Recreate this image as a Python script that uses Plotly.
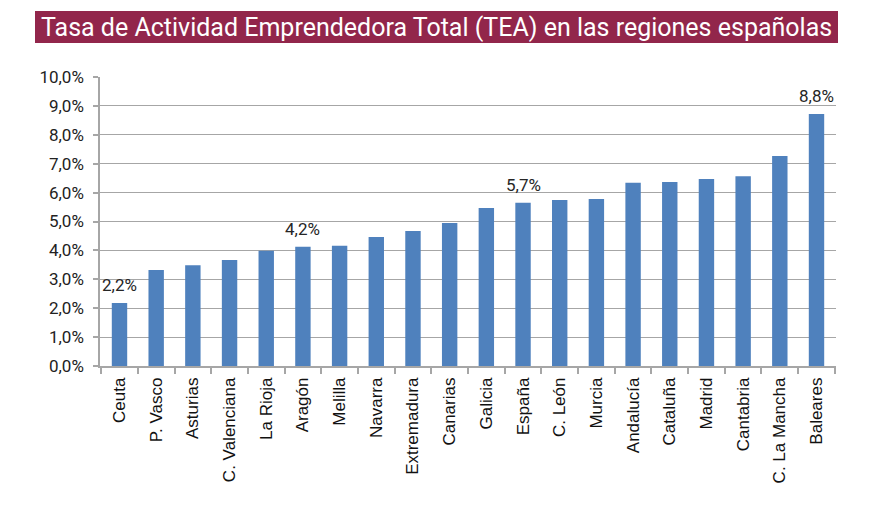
import plotly.graph_objects as go

regions = ["Ceuta", "P. Vasco", "Asturias", "C. Valenciana", "La Rioja", "Aragón",
           "Melilla", "Navarra", "Extremadura", "Canarias", "Galicia", "España",
           "C. León", "Murcia", "Andalucía", "Cataluña", "Madrid", "Cantabria",
           "C. La Mancha", "Baleares"]
tea = [2.18, 3.32, 3.49, 3.67, 3.99, 4.13, 4.16, 4.46, 4.67, 4.95, 5.47, 5.65,
       5.74, 5.78, 6.34, 6.37, 6.47, 6.57, 7.27, 8.72]
value_labels = ["2,2%", "", "", "", "", "4,2%", "", "", "", "", "", "5,7%",
                "", "", "", "", "", "", "", "8,8%"]
y_ticks = [0, 1, 2, 3, 4, 5, 6, 7, 8, 9, 10]
y_tick_labels = ["0,0%", "1,0%", "2,0%", "3,0%", "4,0%", "5,0%", "6,0%",
                 "7,0%", "8,0%", "9,0%", "10,0%"]

title_text = "Tasa de Actividad Emprendedora Total (TEA) en las regiones españolas"

fig = go.Figure(go.Bar(
    x=regions, y=tea,
    marker=dict(color="#4F81BD", line=dict(width=0)),
    cliponaxis=False,
))

for r, v, lab in zip(regions, tea, value_labels):
    if lab:
        fig.add_annotation(x=r, y=v, text=lab, showarrow=False,
                           xanchor="center", yanchor="bottom", yshift=6,
                           font=dict(family="Roboto", size=17, color="#262626"))

# page body has an 8px margin, so the figure starts at (8, 8)
OFF = 8
W, H = 863, 504
ml, mt = 100 - OFF, 77 - OFF
pw, ph = 736, 289
mr = W - ml - pw
mb = H - mt - ph

fig.update_layout(
    width=W, height=H,
    margin=dict(l=ml, r=mr, t=mt, b=mb, autoexpand=False),
    paper_bgcolor="white", plot_bgcolor="white",
    bargap=0.58,
    showlegend=False,
    xaxis=dict(
        showline=True, linecolor="#A6A6A6", linewidth=1.5,
        ticks="outside", ticklen=6, tickcolor="#A6A6A6", tickwidth=1.5,
        tickson="boundaries", tickangle=-90, ticklabelstandoff=3,
        tickfont=dict(family="Liberation Sans", size=17, color="#111111"),
        showgrid=False,
    ),
    yaxis=dict(
        range=[0, 10], tickvals=y_ticks, ticktext=y_tick_labels,
        showline=True, linecolor="#A6A6A6", linewidth=1.5,
        ticks="outside", ticklen=5, tickcolor="#A6A6A6", tickwidth=1.5,
        ticklabelstandoff=6,
        showgrid=True, gridcolor="#A6A6A6", gridwidth=1.2,
        tickfont=dict(family="Roboto", size=17, color="#222222"),
        zeroline=False,
    ),
)

def px2x(px):
    return (px - OFF - ml) / pw
def py2y(py):
    return (mt + ph - (py - OFF)) / ph

fig.add_shape(type="rect", xref="paper", yref="paper",
              x0=px2x(35), x1=px2x(838), y0=py2y(43), y1=py2y(11),
              fillcolor="#92264B", line=dict(width=0), layer="above")
fig.add_annotation(xref="paper", yref="paper", x=px2x(436.5), y=py2y(27),
                   xanchor="center", yanchor="middle", showarrow=False,
                   text=title_text,
                   font=dict(family="Roboto", size=25, color="white"))

fig.write_html("out.html")
